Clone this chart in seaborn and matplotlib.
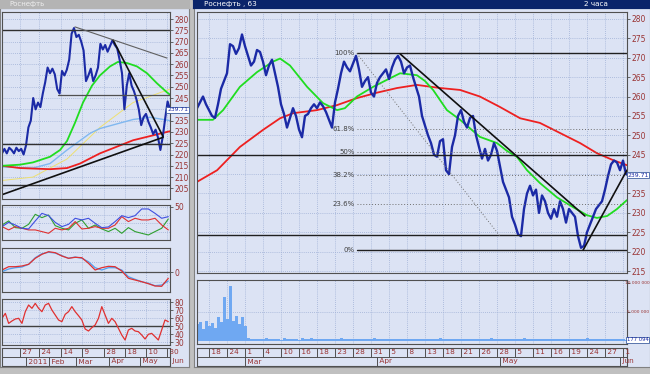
import numpy as np
import pandas as pd
import matplotlib
matplotlib.use('Agg')
import matplotlib.pyplot as plt
import matplotlib.transforms as mtransforms
import seaborn as sns

# ---------------- right window: Роснефть, 2h bars ----------------
price_r = [257, 258.5, 260, 258, 256.5, 255, 254.5, 258, 262, 264,
           266, 273.5, 273, 271, 272.5, 276, 273, 270.5, 268, 269,
           272, 271.5, 269, 265.5, 268, 269.5, 266, 262.5, 258, 255.5,
           252, 254.5, 257, 255, 251.5, 249.5, 255, 255.5, 257, 258,
           257, 258.5, 257.5, 256, 254, 252, 258.5, 262, 266, 269,
           267.5, 266.5, 268.5, 270.5, 267, 262.5, 264, 265, 261, 260,
           263.5, 265, 266, 267, 264.5, 267.5, 269.5, 270.5, 269, 266,
           267.5, 268, 265, 262.5, 260, 255, 252.5, 250, 248, 245,
           244.5, 248.5, 249, 241, 240, 247, 250, 255, 256.5, 253.5,
           252, 254.5, 255, 250, 247, 244, 246.5, 243.5, 245, 248,
           246, 242, 238, 236, 234, 229, 227, 224.5, 224, 231,
           235, 237, 234.5, 236, 230, 234.5, 233, 230, 228.5, 231,
           229, 233, 231, 227.5, 231, 230, 229, 224, 221, 221.5,
           225, 227, 229, 231, 232, 233, 236, 239.5, 242.5, 243.5,
           243, 241, 243.5, 240]

# volume, thousands of shares
volume_r = [2900, 3300, 2100, 3500, 2600, 3100, 2200, 4200, 3200, 7600,
            3800, 9400, 3500, 4300, 3000, 4100, 2500, 600,
            320, 260, 410, 300, 280, 520, 350, 270, 390, 310,
            240, 460, 330, 280, 370, 300, 250, 430, 340, 290,
            510, 360, 280, 330, 270, 400, 310, 260, 350, 300,
            450, 380, 290, 320, 260, 410, 300, 270, 360, 330,
            280, 490, 350, 300, 260, 380, 320, 270, 340, 290,
            420, 360, 300, 270, 330, 280, 400, 350, 310, 260,
            370, 300, 280, 450, 340, 290, 320, 270, 380, 330,
            300, 260, 410, 350, 290, 330, 270, 360, 310, 280,
            430, 370, 320, 290, 350, 300, 270, 400, 340, 310,
            280, 460, 380, 330, 300, 360, 290, 270, 340, 310,
            390, 350, 300, 280, 420, 360, 320, 290, 370, 330,
            310, 270, 440, 360, 300, 340, 280, 390, 320, 290,
            300, 280, 350, 410, 330, 177]

green_r_pos = [0, 5.3, 8.7, 14.3, 20, 25.3, 27.7, 31, 36.7, 42, 46.7, 49.3, 53.3,
               58.7, 64.3, 67.7, 73.3, 76, 78.7, 83.3, 87.7, 94.3, 100, 103.3,
               106.7, 110, 114.3, 120, 125.3, 130, 133.3, 136.7, 140, 143.3]
green_r = [254, 254, 256.5, 262.5, 266.3, 269, 269.8, 268, 262.5, 258.3, 256.5, 257, 260,
           262.5, 264.7, 266, 265.5, 264, 261.7, 256.5, 254, 249.6, 248, 246,
           244.4, 241, 237.7, 234, 231.5, 229.4, 228.7, 229.2, 231, 233.3]

red_r_pos = [0, 6.7, 14.3, 22, 27.7, 32, 40, 46.7, 53.3, 60, 66.7, 73.3, 81,
             87.7, 94.3, 101, 107.7, 114.3, 121, 127.7, 133.3, 138.7, 143.3]
red_r = [238, 241, 247, 251.4, 254.4, 255.7, 256.5, 257.8, 259.6, 261, 262.2, 263, 262.2,
         261.7, 260, 257.3, 254.4, 253.2, 250.6, 248, 245.4, 243.6, 242.3]

fib_high, fib_low = 271.1, 220.4
fib_names = ['100%', '61.8%', '50%', '38.2%', '23.6%', '0%']
fib_ratio = [1.0, 0.618, 0.5, 0.382, 0.236, 0.0]
levels_r = [245.0, 224.3]
trend_r = [((67.7, 271.0), (129.3, 229.2)), ((128.7, 220.4), (143.3, 241.0))]

days_r = ['18', '24', '1', '4', '10', '16', '18', '23', '28', '31', '5', '8',
          '13', '18', '21', '26', '28', '5', '11', '16', '19', '24', '27', '1']
day_pos_r = list(range(4, 143, 6))
months_r = ['Mar', 'Apr', 'May', 'Jun']
month_pos_r = [16, 60, 101, 141]

# ---------------- left window: daily chart ----------------
price_l = [220.5, 222.5, 220.5, 223, 222, 220.5, 223, 221.5, 222.5, 220,
           224, 232, 235, 245, 240, 243, 241, 247, 252, 258.5,
           256, 258, 255.5, 249, 247, 257, 255, 257.5, 262, 273.5,
           276, 272, 273, 270, 266, 252.5, 255, 258, 252.5, 255,
           258.5, 269, 266.5, 268.5, 265.5, 268, 270.5, 268.5, 267, 262,
           256, 240, 250.5, 256, 250.5, 248, 244.5, 240, 233, 236.5,
           238, 234.5, 232, 229, 231, 227.5, 222, 228, 236, 243.5, 240]

green_l_pos = [0, 7.5, 12.9, 20, 24.2, 27.1, 30.4, 33.75, 37.5, 40.8, 45, 48.3,
               52.1, 56.25, 60.4, 64.6, 68.75, 70]
green_l = [215, 215.5, 216.5, 219, 222, 226, 234, 243, 250.5, 255, 259, 261,
           260.5, 259, 256, 251.5, 247.5, 246.5]
yellow_l_pos = [0, 12.9, 27.1, 40.8, 54.6, 68.75, 70]
yellow_l = [208.5, 210, 218, 232, 243, 248.5, 249]
blue_l_pos = [0, 12.9, 20, 27.1, 36.7, 40.8, 54.6, 61.7, 70]
blue_l = [214.5, 214, 216, 222, 229.4, 231.5, 235.5, 236.5, 235]
red_l_pos = [0, 7.5, 20, 27.1, 32.5, 40.8, 54.6, 68.75, 70]
red_l = [215, 214, 213.5, 214, 216, 220.5, 226.3, 230, 230.3]

levels_l = [275.1, 224.5, 206.3]
part_level_l = (23.3, 246.3)
trend_l = [((-0.8, 201.9), (67.1, 227.6)), ((46.25, 270.7), (67.1, 228.0))]
thin_trend_l = ((30.4, 276.5), (68.75, 262.7))

dmi_blue = [26.2, 31.4, 28.2, 24.2, 23.4, 33.1, 42.3, 39.5, 31.4, 26.2, 29.0, 36.3, 34.3,
            36.3, 30.2, 25.0, 25.8, 32.3, 39.5, 37.1, 39.5, 47.6, 47.6, 42.3, 36.3, 38.3]
dmi_red = [26.2, 22.2, 26.2, 24.2, 22.2, 22.2, 20.2, 18.1, 24.2, 22.2, 24.2, 32.3, 23.4,
           24.2, 26.2, 24.2, 24.2, 28.2, 38.3, 32.3, 36.3, 34.3, 34.3, 36.3, 28.2, 22.2]
dmi_green = [28.2, 33.1, 25.0, 24.2, 29.0, 41.1, 37.1, 40.3, 27.4, 24.2, 22.2, 30.2, 34.3,
             24.2, 28.2, 23.4, 20.2, 24.2, 18.1, 25.0, 20.2, 18.1, 16.1, 20.2, 24.2, 35.5]
macd_red = [2.0, 5.3, 5.3, 6.0, 7.7, 13.7, 17.7, 20.3, 19.3, 16.0, 13.7, 14.7, 14.3,
            8.7, 2.0, 4.3, 5.7, 5.3, 1.0, -6.3, -8.0, -9.7, -11.7, -14.0, -14.3, -6.3]
macd_blue = [0.3, 3.0, 4.3, 5.0, 7.7, 14.3, 18.3, 19.7, 19.0, 16.3, 13.7, 15.0, 13.7,
             10.3, 4.3, 2.0, 4.3, 4.3, 2.0, -4.7, -7.3, -9.7, -11.3, -13.7, -13.0, -9.0]
rsi_l = [59.6, 65.8, 53.3, 56.3, 58.75, 59.6, 53.3, 67.9, 76.25, 72.1, 78.3, 72.1, 67.9,
         76.25, 78.3, 70.0, 63.75, 57.5, 55.4, 64.6, 67.9, 74.2, 67.9, 62.9, 57.5, 46.25,
         43.75, 47.9, 51.25, 59.6, 74.2, 63.75, 53.3, 59.6, 55.4, 47.1, 38.75, 32.5, 45.0,
         47.1, 43.75, 42.9, 38.75, 33.75, 39.6, 40.8, 36.7, 32.5, 45.0, 57.5, 55.4]

days_l = ['27', '24', '14', '9', '28', '18', '10', '30']
day_pos_l = [7.5, 15.4, 24.6, 33.3, 42.5, 51.25, 60, 68.75]
months_l = ['2011', 'Feb', 'Mar', 'Apr', 'May', 'Jun']
month_pos_l = [10, 19.6, 30.8, 44.6, 57.5, 70]

# ---------------- drawing ----------------
sns.set_style('white')
plt.rcParams['font.family'] = ['DejaVu Sans']

W, H = 650, 374
BG = '#DCE3F4'
GRID = '#9FB0D6'
EDGE = '#505050'
LAB = '#993333'
PRICE = '#1B2AA6'

fig = plt.figure(figsize=(W / 100, H / 100), dpi=100)
fig.patch.set_facecolor('#C0C0C0')


def px_axes(x0, y0, x1, y1, bg=BG, edge=EDGE):
    ax = fig.add_axes([x0 / W, 1 - y1 / H, (x1 - x0) / W, (y1 - y0) / H])
    ax.set_facecolor(bg)
    for s in ax.spines.values():
        s.set_color(edge)
        s.set_linewidth(0.8)
    ax.set_xticks([])
    ax.set_yticks([])
    return ax


def grid(ax, xs, ys):
    for x in xs:
        ax.axvline(x, color=GRID, lw=0.6, ls=(0, (1, 1.5)), zorder=0)
    for y in ys:
        ax.axhline(y, color=GRID, lw=0.6, ls=(0, (1, 1.5)), zorder=0)


def right_labels(ax, ticks, labels, size=5.5):
    ax.yaxis.tick_right()
    ax.set_yticks(ticks)
    ax.set_yticklabels(labels)
    ax.tick_params(axis='y', length=2, width=0.6, pad=1, labelsize=size,
                   color=EDGE, labelcolor=LAB)


def edge_text(ax, x_px, y, text, size, boxed=True, color='#1B2AA6'):
    # text right-aligned against a window edge, y in data units
    trans = mtransforms.blended_transform_factory(fig.transFigure, ax.transData)
    kw = dict(bbox=dict(fc='white', ec='#4060A0', lw=0.6, pad=0.4)) if boxed else {}
    ax.text(x_px / W, y, text, transform=trans, fontsize=size, color=color,
            va='center', ha='right', clip_on=False, **kw)


def line(ax, x, y, color, lw, **kw):
    sns.lineplot(x=x, y=y, ax=ax, color=color, lw=lw, errorbar=None, sort=False, **kw)


def date_axis(x0, x1, xlim, dpos, dlab, mpos, mlab):
    ax = px_axes(x0, 348, x1, 366)
    ax.set_xlim(xlim)
    ax.set_ylim(0, 2)
    ax.axhline(1, color=EDGE, lw=0.7)
    ax.vlines(dpos, 1, 2, color=EDGE, lw=0.7)
    ax.vlines(mpos, 0, 1, color=EDGE, lw=0.7)
    for p, t in zip(dpos, dlab):
        ax.text(p, 1.5, ' ' + t, fontsize=5.3, color=LAB, va='center', ha='left', clip_on=False)
    for p, t in zip(mpos, mlab):
        ax.text(p, 0.5, ' ' + t, fontsize=5.3, color=LAB, va='center', ha='left', clip_on=False)
    return ax


# window backgrounds and title bars
px_axes(0, 8, 189, 367, edge='#808080')
px_axes(194, 8, 650, 367, edge='#808080')
tl = px_axes(0, 0, 189, 8, bg='#B4B4B4', edge='#B4B4B4')
tl.text(0.05, 0.45, 'Роснефть', transform=tl.transAxes, fontsize=5, color='#EEEEEE', va='center')
tr = px_axes(193, 0, 650, 8, bg='#0A246A', edge='#0A246A')
tr.text(0.025, 0.45, 'Роснефть , 63', transform=tr.transAxes, fontsize=5.2,
        color='white', va='center')
tr.text(0.855, 0.45, '2 часа', transform=tr.transAxes, fontsize=5.2, color='white', va='center')

# ---- right main chart ----
xr = np.arange(len(price_r))
ax = px_axes(197, 12, 627, 273)
ax.set_xlim(0, 143.33)
ax.set_ylim(214.5, 281.8)
grid(ax, day_pos_r, range(215, 281, 5))
line(ax, red_r_pos, red_r, '#EE2020', 1.3)
line(ax, green_r_pos, green_r, '#20DD20', 1.3)
line(ax, xr, price_r, PRICE, 1.7)
for lv in levels_r:
    ax.axhline(lv, color='#202020', lw=1.0)
for r, name in zip(fib_ratio, fib_names):
    v = fib_low + r * (fib_high - fib_low)
    solid = name in ('100%', '0%')
    ax.plot([53.3, 143.33], [v, v], color='#202020' if solid else '#707070',
            lw=1.0 if solid else 0.7, ls='-' if solid else (0, (1, 2)))
    ax.text(52.5, v, name, fontsize=5, color='#404040', ha='right', va='center')
ax.plot([53.3, 101], [fib_high, 224.0], color='#707070', lw=0.7, ls=(0, (1, 2)))
for (a, b) in trend_r:
    ax.plot([a[0], b[0]], [a[1], b[1]], color='#101010', lw=1.2)
right_labels(ax, [215, 220, 225, 230, 235, 245, 250, 255, 260, 265, 270, 275, 280],
             ['215', '220', '225', '230', '235', '245', '250', '255', '260', '265',
              '270', '275', '280'])
edge_text(ax, 648.5, 239.71, '239.71', 4.4)

# ---- volume ----
av = px_axes(197, 280, 627, 344)
vol_df = pd.DataFrame({'bar': xr, 'vol': volume_r})
sns.barplot(data=vol_df, x='bar', y='vol', ax=av, color='#6FA8F2', saturation=1,
            width=1.0, native_scale=True, errorbar=None, linewidth=0)
av.set_xlim(0, 143.33)
av.set_ylim(-520, 10520)
grid(av, day_pos_r, [5000])
av.set_yticks([10000, 5000])
av.tick_params(axis='y', right=True, left=False, labelleft=False, length=2, width=0.6,
               color=EDGE)
edge_text(av, 649.5, 10000, '10 000 000', 3.2, boxed=False, color=LAB)
edge_text(av, 649.5, 5000, '5 000 000', 3.2, boxed=False, color=LAB)
edge_text(av, 648.5, 177, '177 094', 3.8)
av.set_xticks([])

date_axis(197, 627, (0, 143.33), day_pos_r, days_r, month_pos_r, months_r)

# ---- left main chart ----
xl = np.arange(len(price_l))
al = px_axes(2, 12, 170, 199)
al.set_xlim(0, 70)
al.set_ylim(200.3, 283.1)
grid(al, day_pos_l, range(205, 283, 5))
line(al, yellow_l_pos, yellow_l, '#EEE070', 0.7)
line(al, blue_l_pos, blue_l, '#80B8F0', 1.0)
line(al, red_l_pos, red_l, '#EE2020', 1.3)
line(al, green_l_pos, green_l, '#20DD20', 1.3)
line(al, xl, price_l, PRICE, 1.5)
for lv in levels_l:
    al.axhline(lv, color='#303030', lw=1.0)
al.plot([part_level_l[0], 70], [part_level_l[1]] * 2, color='#505050', lw=0.9)
for (a, b) in trend_l:
    al.plot([a[0], b[0]], [a[1], b[1]], color='#101010', lw=1.2)
al.plot([thin_trend_l[0][0], thin_trend_l[1][0]], [thin_trend_l[0][1], thin_trend_l[1][1]],
        color='#606060', lw=0.8)
lt = [205, 210, 215, 220, 225, 230, 235, 245, 250, 255, 260, 265, 270, 275, 280]
right_labels(al, lt, [str(t) for t in lt])
edge_text(al, 188, 239.71, '239.71', 4.3)

xs = np.linspace(0, 69.3, len(dmi_blue))
a1 = px_axes(2, 205, 170, 240)
a1.set_xlim(0, 70)
a1.set_ylim(10, 52.4)
grid(a1, day_pos_l, [20, 30, 40, 50])
line(a1, xs, dmi_green, '#30A030', 0.8)
line(a1, xs, dmi_red, '#E03030', 0.8)
line(a1, xs, dmi_blue, '#4050E0', 0.8)
right_labels(a1, [50], ['50'])

a2 = px_axes(2, 248, 170, 292)
a2.set_xlim(0, 70)
a2.set_ylim(-20, 24)
grid(a2, day_pos_l, [-10, 10, 20])
a2.axhline(0, color='#505050', lw=0.9)
line(a2, xs, macd_blue, '#50A0F0', 0.9)
line(a2, xs, macd_red, '#E03030', 0.9)
right_labels(a2, [0], ['0'])

xr3 = np.linspace(0, 69.3, len(rsi_l))
a3 = px_axes(2, 299, 170, 345)
a3.set_xlim(0, 70)
a3.set_ylim(26.25, 83.75)
grid(a3, day_pos_l, [30, 40, 60, 70, 80])
a3.axhline(50, color='#404040', lw=1.0)
line(a3, xr3, rsi_l, '#E03030', 0.9)
right_labels(a3, [30, 40, 50, 60, 70, 80], ['30', '40', '50', '60', '70', '80'])

date_axis(2, 170, (0, 70), day_pos_l, days_l, month_pos_l, months_l)

for a in fig.axes:
    a.set_xlabel('')
    a.set_ylabel('')

fig.savefig('out.png', dpi=100, facecolor=fig.get_facecolor())
